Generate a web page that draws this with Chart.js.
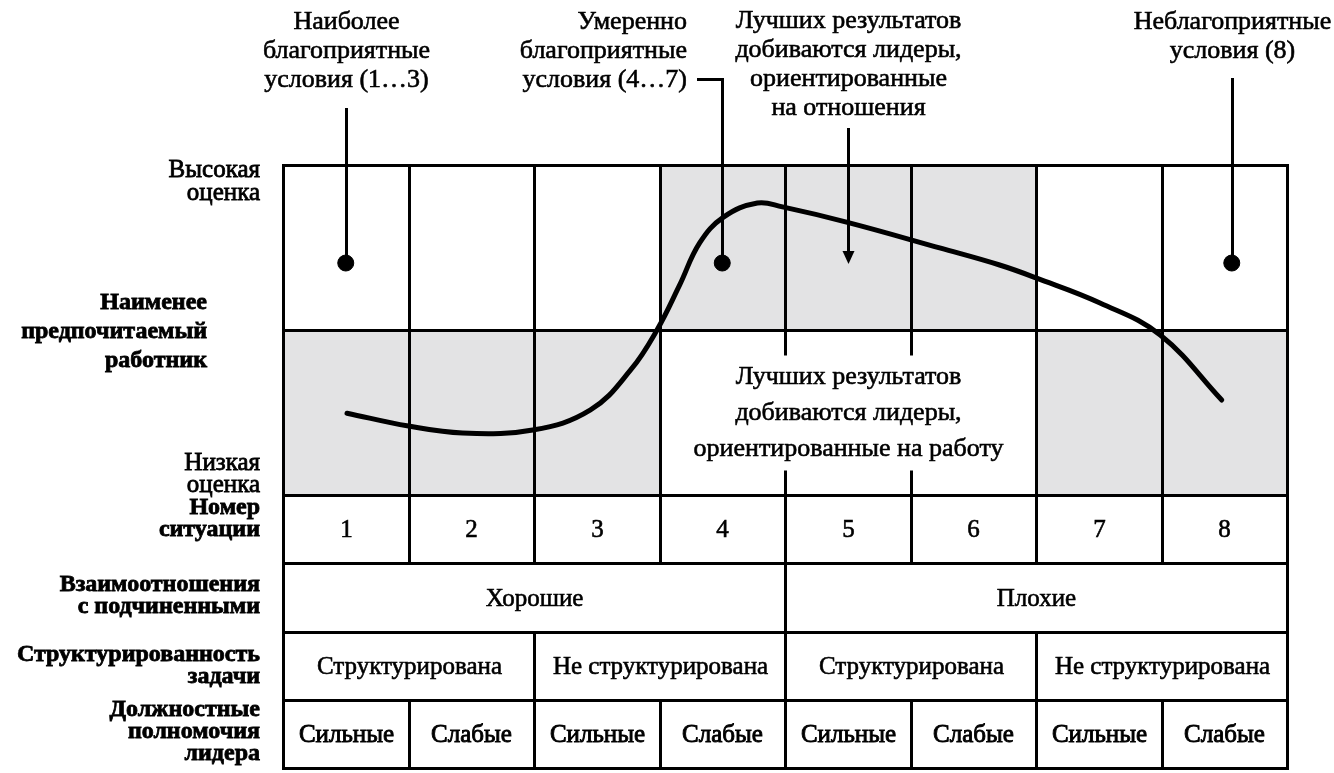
<!DOCTYPE html>
<html>
<head>
<meta charset="utf-8">
<script src="https://cdn.jsdelivr.net/npm/chart.js@4.4.1/dist/chart.umd.min.js"></script>
<style>
  html, body { margin: 0; padding: 0; background: #fff; overflow: hidden; }
  canvas { display: block; }
</style>
</head>
<body>
<canvas id="myChart" width="1334" height="773"></canvas>
<script>
// situations 1..8 and the table rows under them
const situations = ['1', '2', '3', '4', '5', '6', '7', '8'];
const relations = ['Хорошие', 'Плохие'];            // 4 columns each
const structure = ['Структурирована', 'Не структурирована', 'Структурирована', 'Не структурирована']; // 2 each
const power = ['Сильные', 'Слабые', 'Сильные', 'Слабые', 'Сильные', 'Слабые', 'Сильные', 'Слабые'];

// which cells of the upper (high LPC) and lower (low LPC) halves are gray
const highShade = [false, false, false, true, true, true, false, false];
const lowShade = [true, true, true, false, false, false, true, true];

// performance curve (x = situation, y = 0 low .. 100 high)
const curveX = [1.01, 1.5, 1.93, 2.49, 2.95, 3.27, 3.48, 3.66, 3.82, 4.01, 4.28, 4.48, 4.99, 5.74, 6.21, 6.5, 7.01, 7.49, 7.98];
const curveY = [24.8, 20.9, 18.8, 19.7, 25.8, 37.9, 50, 63.6, 76.4, 84.2, 88.5, 87.3, 82.7, 74.8, 69.7, 65.8, 58.2, 48.5, 28.8];

// marker dots for the three favourability groups
const markerX = [1, 4, 8.06];
const markerY = [70.3, 70.3, 70.3];

const rowLines = [0, -20.6, -41.5, -62.1, -82.7];

const FONT = '"Liberation Serif", "DejaVu Serif", serif';
const GRAY = '#e3e3e4';

const ctx = document.getElementById('myChart');

// text drawn with a thin outline so it looks as heavy as the printed original
function lines(c, arr, x, y, step, align, heavy) {
  c.textAlign = align;
  c.lineWidth = heavy || 0.6;
  c.strokeStyle = '#000';
  arr.forEach((t, i) => {
    c.fillText(t, x, y + i * step);
    c.strokeText(t, x, y + i * step);
  });
}

const crisp = v => Math.round(v) + 0.5;

const tablePlugin = {
  id: 'table',
  beforeDatasetsDraw(chart) {
    const c = chart.ctx;
    const xs = chart.scales.x, ys = chart.scales.y;
    const X = v => crisp(xs.getPixelForValue(v));
    const Y = v => crisp(ys.getPixelForValue(v));
    c.save();
    // shading
    c.fillStyle = GRAY;
    situations.forEach((s, i) => {
      if (highShade[i]) c.fillRect(X(i + 0.5), Y(100), X(i + 1.5) - X(i + 0.5), Y(50) - Y(100));
      if (lowShade[i]) c.fillRect(X(i + 0.5), Y(50), X(i + 1.5) - X(i + 0.5), Y(0) - Y(50));
    });
    c.strokeStyle = '#000';
    c.lineWidth = 3;
    c.lineCap = 'butt';
    const seg = (x1, y1, x2, y2) => { c.beginPath(); c.moveTo(x1, y1); c.lineTo(x2, y2); c.stroke(); };
    // horizontal lines
    [100, 50].concat(rowLines).forEach(v => seg(X(0.5) - 1.5, Y(v), X(8.5) + 1.5, Y(v)));
    // vertical lines in the upper region
    for (let k = 0; k <= 8; k++) {
      const x = X(k + 0.5);
      seg(x, Y(100), x, Y(50));
      if (k === 4 || k === 5) {
        seg(x, Y(50), x, Y(50) + 25);
        seg(x, Y(0) - 25, x, Y(0));
      } else {
        seg(x, Y(50), x, Y(0));
      }
    }
    // table verticals
    for (let k = 0; k <= 8; k++) {
      const x = X(k + 0.5);
      seg(x, Y(rowLines[0]), x, Y(rowLines[1]));
      if (k % 4 === 0) seg(x, Y(rowLines[1]), x, Y(rowLines[2]));
      if (k % 2 === 0) seg(x, Y(rowLines[2]), x, Y(rowLines[3]));
      seg(x, Y(rowLines[3]), x, Y(rowLines[4]));
    }
    // cell texts
    c.fillStyle = '#000';
    c.textBaseline = 'middle';
    c.font = '25px ' + FONT;
    const mid = (a, b) => (Y(a) + Y(b)) / 2;
    situations.forEach((s, i) => lines(c, [s], X(i + 1), mid(rowLines[0], rowLines[1]) + 1, 0, 'center'));
    relations.forEach((s, i) => lines(c, [s], X(i * 4 + 2.5), mid(rowLines[1], rowLines[2]) + 1, 0, 'center'));
    structure.forEach((s, i) => lines(c, [s], X(i * 2 + 1.5), mid(rowLines[2], rowLines[3]) + 1, 0, 'center'));
    power.forEach((s, i) => lines(c, [s], X(i + 1), mid(rowLines[3], rowLines[4]) + 1, 0, 'center', 0.9));
    c.font = '26px ' + FONT;
    lines(c, ['Лучших результатов', 'добиваются лидеры,', 'ориентированные на работу'], X(5), Y(50) + 47, 36, 'center');

    // left labels
    c.font = '25px ' + FONT;
    lines(c, ['Высокая', 'оценка'], 260, 170, 23, 'right', 0.8);
    lines(c, ['Низкая', 'оценка'], 260, 463, 22, 'right', 0.8);
    c.font = 'bold 24px ' + FONT;
    lines(c, ['Наименее', 'предпочитаемый', 'работник'], 207, 303, 29, 'right', 0.8);
    lines(c, ['Номер', 'ситуации'], 260, 508, 22, 'right', 0.8);
    lines(c, ['Взаимоотношения', 'с подчиненными'], 260, 585, 22, 'right', 0.8);
    lines(c, ['Структурированность', 'задачи'], 260, 655, 22, 'right', 0.8);
    lines(c, ['Должностные', 'полномочия', 'лидера'], 260, 710, 22, 'right', 0.8);
    c.restore();
  },
  afterDatasetsDraw(chart) {
    const c = chart.ctx;
    const xs = chart.scales.x, ys = chart.scales.y;
    const X = v => crisp(xs.getPixelForValue(v));
    const Y = v => crisp(ys.getPixelForValue(v));
    c.save();
    c.strokeStyle = '#000';
    c.fillStyle = '#000';
    c.lineWidth = 3;
    const seg = (x1, y1, x2, y2) => { c.beginPath(); c.moveTo(x1, y1); c.lineTo(x2, y2); c.stroke(); };
    // leader lines to the dots
    const d1 = X(markerX[0]), d2 = X(markerX[1]), d3 = X(markerX[2]), dy = Y(markerY[0]);
    seg(d1, 108, d1, dy);
    seg(697, 79.5, d2 + 1.5, 79.5);
    seg(d2, 78, d2, dy);
    seg(d3, 78, d3, dy);
    // arrow
    const ax = X(5);
    seg(ax, 128, ax, 252);
    c.beginPath();
    c.moveTo(ax - 6, 251); c.lineTo(ax + 6, 251); c.lineTo(ax, 264); c.closePath(); c.fill();

    // annotations
    c.textBaseline = 'middle';
    c.font = '26px ' + FONT;
    lines(c, ['Наиболее', 'благоприятные', 'условия (1…3)'], d1, 22, 29, 'center');
    lines(c, ['Умеренно', 'благоприятные', 'условия (4…7)'], 687, 22, 29, 'right');
    lines(c, ['Лучших результатов', 'добиваются лидеры,', 'ориентированные', 'на отношения'], ax, 21, 29, 'center');
    lines(c, ['Неблагоприятные', 'условия (8)'], d3, 22, 29, 'center');
    c.restore();
  }
};

const config = {
  type: 'scatter',
  data: {
    datasets: [
      {
        label: 'curve',
        data: curveX.map((x, i) => ({ x: x, y: curveY[i] })),
        showLine: true,
        borderColor: '#000',
        borderWidth: 5,
        borderCapStyle: 'round',
        tension: 0.4,
        pointRadius: 0
      },
      {
        label: 'markers',
        data: markerX.map((x, i) => ({ x: x, y: markerY[i] })),
        showLine: false,
        pointRadius: 8,
        backgroundColor: '#000',
        borderColor: '#000'
      }
    ]
  },
  options: {
    responsive: false,
    animation: false,
    devicePixelRatio: 1,
    layout: { autoPadding: false, padding: { left: 283, right: 47, top: 165, bottom: 5 } },
    plugins: { legend: { display: false }, tooltip: { enabled: false } },
    scales: {
      x: { type: 'linear', min: 0.5, max: 8.5, display: false },
      y: { type: 'linear', min: -82.7, max: 100, display: false }
    }
  },
  plugins: [tablePlugin]
};

new Chart(ctx, config);
</script>
</body>
</html>
